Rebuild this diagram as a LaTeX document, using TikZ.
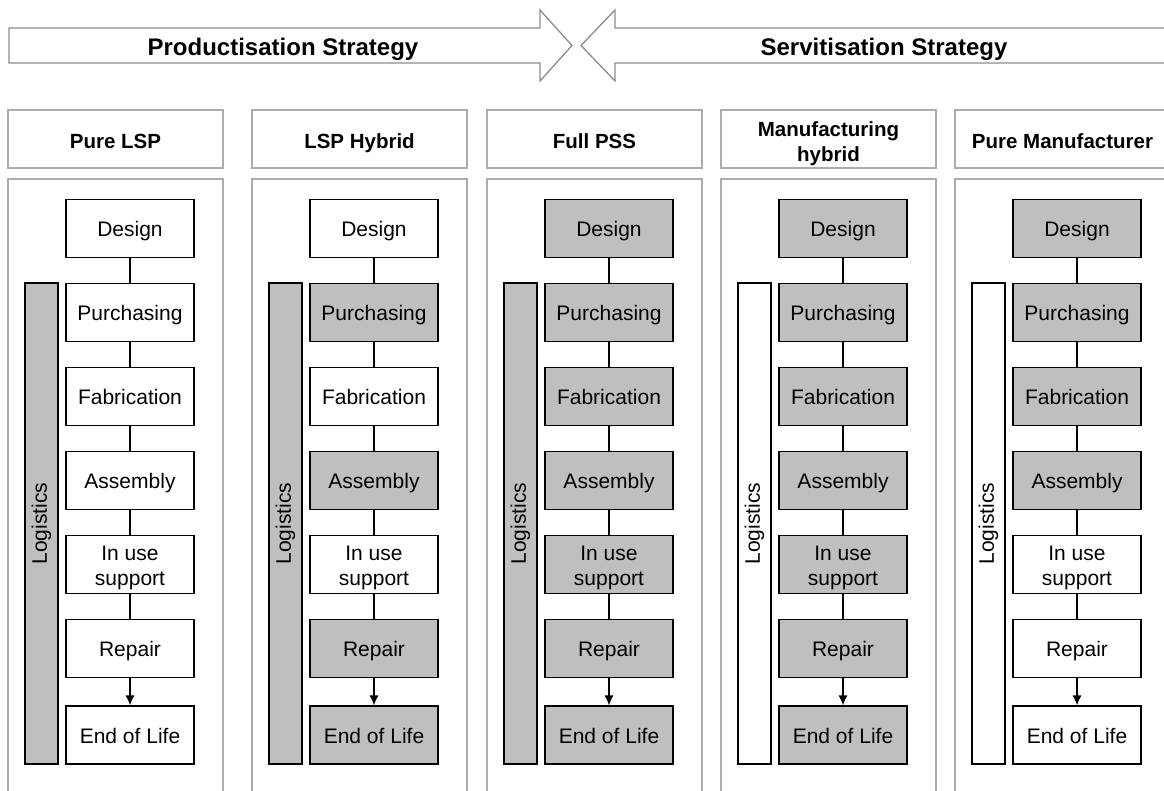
\documentclass[tikz,border=0pt]{standalone}
\usepackage{fontspec}
\setmainfont{Liberation Sans}
\usetikzlibrary{arrows.meta}

\definecolor{stagefill}{RGB}{191,191,191}
\definecolor{framegray}{RGB}{172,172,172}
\definecolor{arrowgray}{RGB}{140,140,140}

% invisible struts that give every first line the full ascent of the font
\newcommand\linestrut{\rule[-0.21em]{0pt}{1.2em}}
\newcommand\headstrut{\rule[-0.21em]{0pt}{1.35em}}

% stage labels, top to bottom
\newcommand\stagename[1]{\linestrut\ifcase#1\or Design\or Purchasing\or Fabrication\or Assembly\or In use\\support\or Repair\or End of Life\fi}

% one column: #1 id, #2 left edge, #3 title, #4 logistics fill, #5 fills of the seven stages
\newcommand\stagecolumn[5]{%
  \node[headbox] (#1-head) at (#2+107.5,139) {\headstrut#3};
  \node[bodybox] (#1-body) at (#2+107.5,504.5) {};
  \node[logbox,#4] (#1-log) at (#2+33.5,523.5) {Logistics};
  \foreach \st [count=\i] in {#5} {
    \pgfmathsetmacro\yy{\i<7 ? 228.5+84*(\i-1) : 735}
    \node[stagebox,\st] (#1-\i) at (#2+122,\yy) {\stagename{\i}};
  }
  \foreach \i in {1,...,5} {
    \pgfmathtruncatemacro\j{\i+1}
    \draw[link] (#1-\i) -- (#1-\j);
  }
  \draw[link,-{Latex[length=10pt,width=9pt]}] (#1-6) -- (#1-7);
}

\begin{document}
\begin{tikzpicture}[x=1pt,y=-1pt,
  headbox/.style={draw=framegray,line width=1.4pt,minimum width=215pt,minimum height=58pt,
    inner sep=0pt,align=center,font=\fontsize{20.5}{25}\selectfont\bfseries},
  bodybox/.style={draw=framegray,line width=1.4pt,minimum width=215pt,minimum height=651pt,inner sep=0pt},
  stagebox/.style={draw=black,line width=1.2pt,minimum width=128pt,minimum height=58pt,
    inner sep=0pt,align=center,font=\fontsize{21}{25}\selectfont},
  logbox/.style={draw=black,line width=1.2pt,rotate=90,minimum width=481pt,minimum height=33pt,
    inner sep=0pt,font=\fontsize{21}{24}\selectfont},
  on/.style={fill=stagefill},
  off/.style={fill=white},
  link/.style={draw=black,line width=1.2pt},
  strategy/.style={draw=arrowgray,line width=1.3pt,fill=white},
  strategytext/.style={font=\fontsize{24}{28}\selectfont\bfseries}]

\useasboundingbox (0,0) rectangle (1164,791);
\clip (0,0) rectangle (1164,791);

% the two opposing strategy arrows
\draw[strategy] (9,28) -- (540,28) -- (540,10) -- (572,45.5) -- (540,81) -- (540,63) -- (9,63) -- cycle;
\draw[strategy] (1180,28) -- (615,28) -- (615,10) -- (581,45.5) -- (615,81) -- (615,63) -- (1180,63);
\node[strategytext] (prod) at (283,49) {Productisation Strategy};
\node[strategytext] (serv) at (884,49) {Servitisation Strategy};

% the five business models
\stagecolumn{lsp}{8}{Pure LSP}{on}{off,off,off,off,off,off,off}
\stagecolumn{lsph}{252}{LSP Hybrid}{on}{off,on,off,on,off,on,on}
\stagecolumn{pss}{487}{Full PSS}{on}{on,on,on,on,on,on,on}
\stagecolumn{mfh}{721}{Manufacturing\\hybrid}{off}{on,on,on,on,on,on,on}
\stagecolumn{mf}{955}{Pure Manufacturer}{off}{on,on,on,on,off,off,off}

\end{tikzpicture}
\end{document}
